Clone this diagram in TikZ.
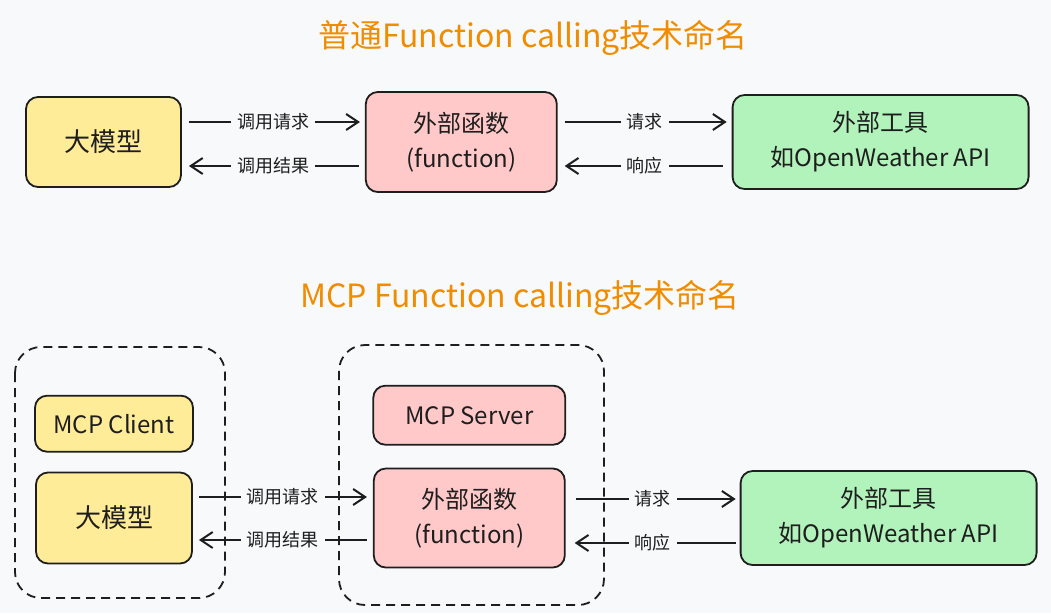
\documentclass[tikz,border=0pt]{standalone}
\usepackage{fontspec}
\setmainfont{Noto Sans CJK SC}
\usetikzlibrary{positioning,arrows.meta}

\definecolor{bg}{HTML}{F8F9FA}
\definecolor{ink}{HTML}{1E1E1E}
\definecolor{titleorange}{HTML}{F08C00}
\definecolor{modelfill}{HTML}{FFEC99}
\definecolor{funcfill}{HTML}{FFC9C9}
\definecolor{toolfill}{HTML}{B2F2BB}

\tikzset{
  box/.style={draw=ink,line width=1.8pt,rounded corners=12pt,align=center,
    text=ink,inner sep=0pt,font=\fontsize{24}{35}\selectfont},
  modelbox/.style={box,fill=modelfill},
  funcbox/.style={box,fill=funcfill},
  toolbox/.style={box,fill=toolfill},
  flow/.style={draw=ink,line width=2pt,
    -{Straight Barb[length=12pt,width=16pt,line width=2pt]}},
  flowlabel/.style={fill=bg,text=ink,inner sep=6pt,font=\fontsize{18}{18}\selectfont},
  group/.style={draw=ink,line width=1.8pt,dash pattern=on 9pt off 6pt,rounded corners=26pt},
  heading/.style={text=titleorange,font=\fontsize{32}{32}\selectfont},
}

\begin{document}
\begin{tikzpicture}[x=1pt,y=-1pt]
  \fill[bg] (0,0) rectangle (1051,613);

  % plain function calling
  \node[heading] (title1) at (533,38) {普通Function calling技术命名};
  \node[modelbox,minimum width=155pt,minimum height=90pt,font=\fontsize{26}{35}\selectfont]
    (model1) at (103.5,142) {大模型};
  \node[funcbox,minimum width=191pt,minimum height=100pt,right=183pt of model1]
    (func1) {外部函数\\(function)};
  \node[toolbox,minimum width=296pt,minimum height=94pt,right=174pt of func1]
    (tool1) {外部工具\\如OpenWeather API};

  \draw[flow,shorten <=7pt,shorten >=5pt] ([yshift=20pt]model1.east)
    -- node[flowlabel] {调用请求} ([yshift=20pt]func1.west);
  \draw[flow,shorten <=6pt,shorten >=7pt] ([yshift=-24pt]func1.west)
    -- node[flowlabel] {调用结果} ([yshift=-24pt]model1.east);
  \draw[flow,shorten <=7pt,shorten >=5pt] ([yshift=20pt]func1.east)
    -- node[flowlabel] {请求} ([yshift=20pt]tool1.west);
  \draw[flow,shorten <=9pt,shorten >=7pt] ([yshift=-24pt]tool1.west)
    -- node[flowlabel] {响应} ([yshift=-24pt]func1.east);

  % MCP function calling
  \node[heading] (title2) at (520,298) {MCP Function calling技术命名};
  \draw[group] (15,347) rectangle (225,598);
  \draw[group] (339,345) rectangle (604,605);

  \node[modelbox,minimum width=156pt,minimum height=91pt,font=\fontsize{26}{35}\selectfont]
    (model2) at (114,518) {大模型};
  \node[modelbox,minimum width=158pt,minimum height=56pt,above=19pt of model2]
    (client) {MCP Client};
  \node[funcbox,minimum width=191pt,minimum height=99pt,right=180pt of model2]
    (func2) {外部函数\\(function)};
  \node[funcbox,minimum width=192pt,minimum height=59pt,above=22pt of func2]
    (server) {MCP Server};
  \node[toolbox,minimum width=296pt,minimum height=94pt,right=174pt of func2]
    (tool2) {外部工具\\如OpenWeather API};

  \draw[flow,shorten <=6pt,shorten >=6pt] ([yshift=21pt]model2.east)
    -- node[flowlabel] {调用请求} ([yshift=21pt]func2.west);
  \draw[flow,shorten <=6pt,shorten >=6pt] ([yshift=-22pt]func2.west)
    -- node[flowlabel] {调用结果} ([yshift=-22pt]model2.east);
  \draw[flow,shorten <=10pt,shorten >=4pt] ([yshift=19pt]func2.east)
    -- node[flowlabel] {请求} ([yshift=19pt]tool2.west);
  \draw[flow,shorten <=4pt,shorten >=9pt] ([yshift=-25pt]tool2.west)
    -- node[flowlabel] {响应} ([yshift=-25pt]func2.east);
\end{tikzpicture}
\end{document}
